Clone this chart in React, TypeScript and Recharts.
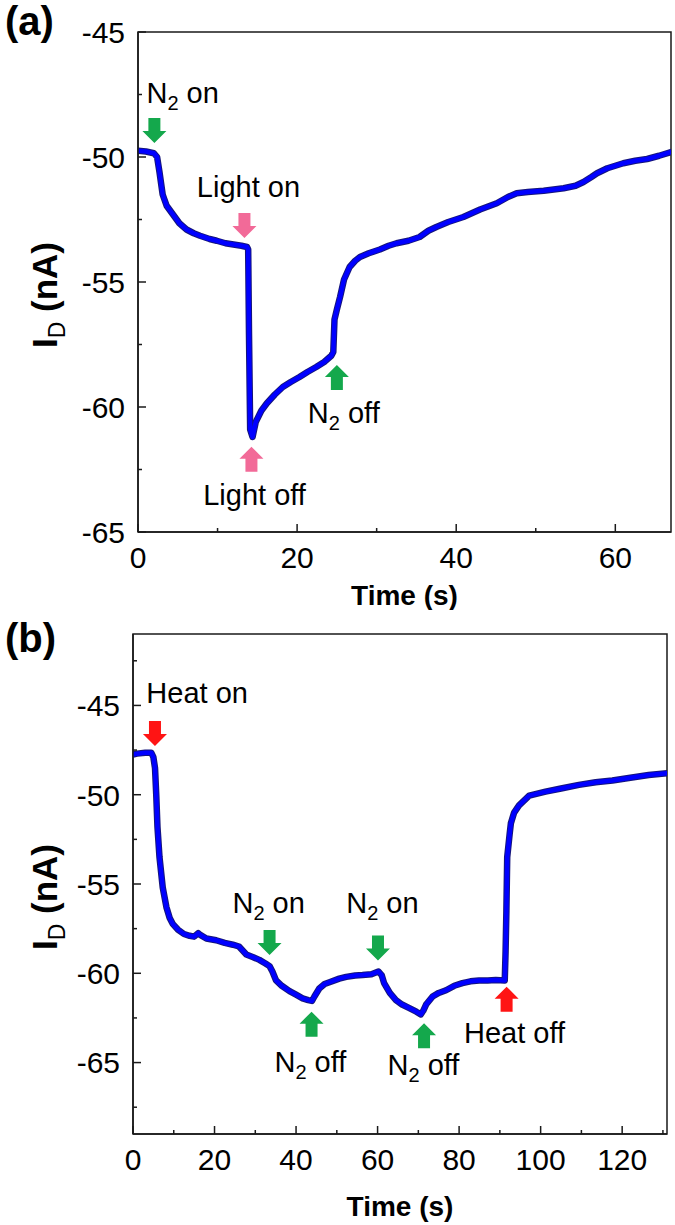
import React from 'react';
import { LineChart, Line, XAxis, YAxis, ReferenceDot, ReferenceArea } from 'recharts';

const FONT = '"Liberation Sans", Arial, Helvetica, sans-serif';
const AXIS = '#1a1a1a';
const GREEN = '#14a84c';
const PINK = '#f26a98';
const RED = '#ff1414';

// ---------- Panel (a) ----------
const timeA = [0, 1.0, 2.0, 2.4, 2.7, 3.1, 3.6, 4.4, 5.2, 6.1, 7.0, 7.8, 9.0, 9.9, 11.0, 12.0, 13.0, 13.7, 13.85, 13.95, 14.1, 14.4, 14.8, 15.5, 16.2, 17.2, 18.2, 19.2, 20.3, 21.3, 22.4, 23.4, 24.3, 24.55, 24.7, 25.0, 25.4, 25.9, 26.6, 27.3, 27.9, 29.0, 30.4, 31.5, 32.5, 34.0, 35.4, 36.5, 37.5, 39.0, 40.9, 43.0, 45.1, 46.5, 47.6, 49.0, 51.0, 53.5, 55.0, 56.0, 57.0, 57.7, 59.0, 61.0, 62.5, 64.0, 65.5, 67.0];
const currentA = [-49.75, -49.78, -49.85, -50.0, -50.6, -51.5, -51.95, -52.3, -52.65, -52.9, -53.05, -53.15, -53.28, -53.35, -53.45, -53.5, -53.55, -53.6, -53.7, -57.0, -60.9, -61.2, -60.6, -60.15, -59.85, -59.5, -59.2, -59.0, -58.8, -58.6, -58.4, -58.2, -57.95, -57.8, -56.5, -56.1, -55.6, -54.9, -54.4, -54.15, -54.0, -53.85, -53.7, -53.55, -53.45, -53.35, -53.2, -52.95, -52.8, -52.6, -52.4, -52.1, -51.85, -51.6, -51.45, -51.4, -51.35, -51.25, -51.15, -51.0, -50.8, -50.65, -50.45, -50.25, -50.15, -50.08, -49.95, -49.8];
const xTicksA = [0, 10, 20, 30, 40, 50, 60];
const yTicksA = [-65, -62.5, -60, -57.5, -55, -52.5, -50, -47.5, -45];
const arrowsA = [
  { t: 2.06, v: -49.44, dir: 'down', color: GREEN },
  { t: 13.38, v: -53.24, dir: 'down', color: PINK },
  { t: 14.26, v: -61.59, dir: 'up', color: PINK },
  { t: 25.0, v: -58.32, dir: 'up', color: GREEN },
];
const labelsA = [
  { t: 1.06, v: -47.84, text: 'N_2 on' },
  { t: 7.4, v: -51.59, text: 'Light on' },
  { t: 8.2, v: -63.92, text: 'Light off' },
  { t: 21.35, v: -60.64, text: 'N_2 off' },
];

// ---------- Panel (b) ----------
const timeB = [0, 1, 3, 4.5, 5.0, 5.4, 5.7, 6.0, 6.5, 7.3, 8.2, 9.0, 9.8, 11.0, 12.5, 13.9, 15.0, 16.0, 16.5, 18.0, 20.4, 22.5, 24.5, 26.0, 27.8, 29.5, 31.0, 32.5, 33.5, 34.2, 35.1, 36.5, 38.4, 40.0, 41.6, 43.0, 43.9, 44.5, 45.7, 47.0, 48.2, 50.6, 52.3, 54.5, 56.3, 58.5, 60.2, 61.0, 61.6, 63.0, 64.5, 66.0, 67.8, 69.5, 70.6, 71.2, 71.9, 73.5, 75.0, 76.8, 78.8, 80.8, 82.8, 84.9, 87.0, 89.0, 91.2, 91.4, 91.6, 91.8, 92.4, 92.7, 93.5, 94.7, 97.2, 101.2, 105.0, 109.4, 113.5, 117.6, 122.0, 126.5, 131.0];
const currentB = [-47.75, -47.7, -47.65, -47.65, -47.9, -48.5, -50.0, -51.8, -53.5, -55.2, -56.3, -56.9, -57.25, -57.55, -57.8, -57.9, -57.95, -57.75, -57.85, -58.05, -58.15, -58.3, -58.4, -58.5, -58.95, -59.1, -59.25, -59.45, -59.6, -59.9, -60.4, -60.7, -61.0, -61.2, -61.4, -61.5, -61.55, -61.3, -60.85, -60.6, -60.5, -60.3, -60.2, -60.12, -60.1, -60.05, -59.9, -60.1, -60.55, -61.1, -61.5, -61.75, -61.95, -62.15, -62.3, -62.1, -61.75, -61.3, -61.1, -60.95, -60.7, -60.55, -60.45, -60.4, -60.4, -60.38, -60.4, -58.8, -56.5, -53.5, -52.2, -51.6, -51.0, -50.6, -50.05, -49.83, -49.65, -49.45, -49.3, -49.2, -49.05, -48.9, -48.8];
const xTicksB = [0, 10, 20, 30, 40, 50, 60, 70, 80, 90, 100, 110, 120, 130];
const yTicksB = [-67.5, -65, -62.5, -60, -57.5, -55, -52.5, -50, -47.5, -45, -42.5];
const arrowsB = [
  { t: 5.39, v: -47.27, dir: 'down', color: RED },
  { t: 33.5, v: -58.97, dir: 'down', color: GREEN },
  { t: 43.8, v: -62.15, dir: 'up', color: GREEN },
  { t: 60.1, v: -59.29, dir: 'down', color: GREEN },
  { t: 71.4, v: -62.8, dir: 'up', color: GREEN },
  { t: 91.65, v: -60.75, dir: 'up', color: RED },
];
const labelsB = [
  { t: 3.28, v: -44.88, text: 'Heat on' },
  { t: 24.4, v: -56.64, text: 'N_2 on' },
  { t: 34.7, v: -65.5, text: 'N_2 off' },
  { t: 52.3, v: -56.64, text: 'N_2 on' },
  { t: 62.45, v: -65.69, text: 'N_2 off' },
  { t: 81.2, v: -63.88, text: 'Heat off' },
];

const dataA = timeA.map((t, i) => ({ t, i: currentA[i] }));
const dataB = timeB.map((t, i) => ({ t, i: currentB[i] }));

function RichText({ x, y, text, size = 29, subSize = 20, shift = 7, bold = false, anchor = 'start', transform }: any) {
  const m = text.match(/^(.*?)_(.)(.*)$/);
  const common = { fontFamily: FONT, fill: '#000', fontWeight: bold ? 700 : 400, textAnchor: anchor, style: { whiteSpace: 'pre' as const } };
  if (!m) {
    return <text x={x} y={y} fontSize={size} {...common} transform={transform}>{text}</text>;
  }
  return (
    <text x={x} y={y} fontSize={size} {...common} transform={transform}>
      <tspan>{m[1]}</tspan>
      <tspan fontSize={subSize} dy={shift} fontWeight={400}>{m[2]}</tspan>
      <tspan dy={-shift}>{m[3]}</tspan>
    </text>
  );
}

function ArrowShape({ cx, cy, dir, color }: any) {
  const s = dir === 'down' ? -1 : 1;
  const raw = [[-6, 25], [6, 25], [6, 12], [12, 12], [0, 0], [-12, 12], [-6, 12]];
  const pts = raw.map(([x, y]) => `${cx + x},${cy + s * y}`).join(' ');
  return <polygon points={pts} fill={color} />;
}

const makeXTick = (bottom: number, majorStep: number) => (p: any) => {
  const v = p.payload.value;
  const x = p.x;
  const major = v % majorStep === 0;
  return (
    <g>
      <line x1={x} x2={x} y1={bottom} y2={bottom - (major ? 8 : 4)} stroke={AXIS} strokeWidth={1.5} />
      {major && (
        <text x={x} y={bottom + 36} textAnchor="middle" fontSize={30} fontFamily={FONT} fill="#000">{v}</text>
      )}
    </g>
  );
};

const makeYTick = (left: number) => (p: any) => {
  const v = p.payload.value;
  const y = p.y;
  const major = v % 5 === 0;
  return (
    <g>
      <line x1={left} x2={left + (major ? 8 : 4)} y1={y} y2={y} stroke={AXIS} strokeWidth={1.5} />
      {major && (
        <text x={left - 13} y={y} dy="0.36em" textAnchor="end" fontSize={30} fontFamily={FONT} fill="#000">{v}</text>
      )}
    </g>
  );
};

const makeXLabel = (offset: number) => (props: any) => {
  const vb = props.viewBox || {};
  return (
    <text x={vb.x + vb.width / 2} y={vb.y + offset} textAnchor="middle" fontSize={28} fontWeight={700} fontFamily={FONT} fill="#000">
      Time (s)
    </text>
  );
};

const makeYLabel = (panel: string, panelY: number) => (props: any) => {
  const vb = props.viewBox || {};
  const cy = vb.y + vb.height / 2 + 13;
  const cx = 57;
  return (
    <g>
      <RichText x={cx} y={cy} text="I_D (nA)" size={35} subSize={23} shift={8} bold anchor="middle" transform={`rotate(-90, ${cx}, ${cy})`} />
      <text x={5} y={panelY} fontSize={40} fontWeight={700} fontFamily={FONT} fill="#000">{panel}</text>
    </g>
  );
};

function Panel({ data, width, height, margin, xDomain, yDomain, xTicks, yTicks, xAxisH, yAxisW, arrows, labels, panel, panelY, xLabelOffset }: any) {
  const plotBottom = height - margin.bottom - xAxisH;
  const plotLeft = margin.left + yAxisW;
  const axisLine = { stroke: AXIS, strokeWidth: 1.5 };
  return (
    <LineChart width={width} height={height} data={data} margin={margin}>
      <XAxis dataKey="t" type="number" domain={xDomain} ticks={xTicks} interval={0} allowDataOverflow height={xAxisH}
        tickLine={false} tickSize={0} tickMargin={0} axisLine={axisLine} tick={makeXTick(plotBottom, 20)} label={makeXLabel(xLabelOffset)} />
      <YAxis type="number" domain={yDomain} ticks={yTicks} interval={0} allowDataOverflow width={yAxisW}
        tickLine={false} tickSize={0} tickMargin={0} axisLine={axisLine} tick={makeYTick(plotLeft)} label={makeYLabel(panel, panelY)} />
      <ReferenceArea x1={xDomain[0]} x2={xDomain[1]} y1={yDomain[0]} y2={yDomain[1]} fill="none" fillOpacity={0}
        stroke={AXIS} strokeWidth={1.5} ifOverflow="visible" />
      <Line dataKey="i" type="linear" stroke="#15157a" strokeWidth={6.5} dot={false} isAnimationActive={false} strokeLinejoin="round" strokeLinecap="round" />
      <Line dataKey="i" type="linear" stroke="#0000ff" strokeWidth={4.5} dot={false} isAnimationActive={false} strokeLinejoin="round" strokeLinecap="round" />
      {arrows.map((a: any, k: number) => (
        <ReferenceDot key={`a${k}`} x={a.t} y={a.v} r={0} ifOverflow="visible"
          shape={(p: any) => <ArrowShape cx={p.cx} cy={p.cy} dir={a.dir} color={a.color} />} />
      ))}
      {labels.map((l: any, k: number) => (
        <ReferenceDot key={`l${k}`} x={l.t} y={l.v} r={0} ifOverflow="visible"
          shape={(p: any) => <RichText x={p.cx} y={p.cy} text={l.text} />} />
      ))}
    </LineChart>
  );
}

export default function App() {
  return (
    <div style={{ position: 'absolute', left: 0, top: 0, width: 675, height: 1225, background: '#fff' }}>
      <div style={{ position: 'absolute', left: 0, top: 0 }}>
        <Panel data={dataA} width={675} height={610} margin={{ top: 32, right: 4, bottom: 0, left: 0 }}
          xDomain={[0, 67]} yDomain={[-65, -45]} xTicks={xTicksA} yTicks={yTicksA} xAxisH={78} yAxisW={138}
          arrows={arrowsA} labels={labelsA} panel="(a)" panelY={35} xLabelOffset={73} />
      </div>
      <div style={{ position: 'absolute', left: 0, top: 610 }}>
        <Panel data={dataB} width={675} height={615} margin={{ top: 24, right: 8, bottom: 0, left: 0 }}
          xDomain={[0, 131]} yDomain={[-69, -41]} xTicks={xTicksB} yTicks={yTicksB} xAxisH={91} yAxisW={133}
          arrows={arrowsB} labels={labelsB} panel="(b)" panelY={42} xLabelOffset={82} />
      </div>
    </div>
  );
}
